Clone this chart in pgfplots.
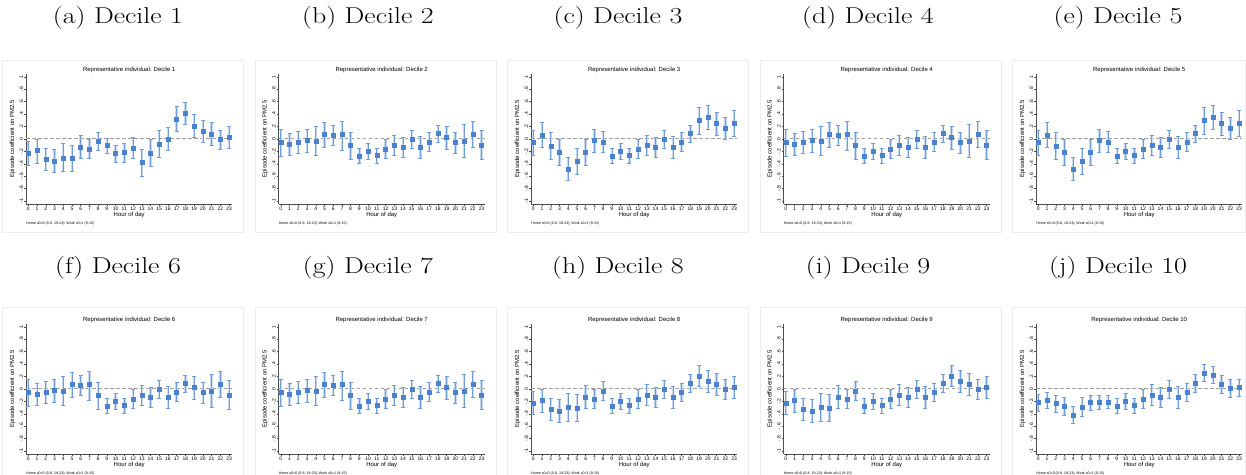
\documentclass[border=0pt]{standalone}
\usepackage{pgfplots}
\pgfplotsset{compat=1.18}
\usepackage{pgfplotstable}
\usepackage{fontspec}
\usepackage{graphicx}
\newfontfamily\arialf{Liberation Sans}

\definecolor{markblue}{HTML}{4A82CE}
\definecolor{cidark}{HTML}{6E9DD8}
\definecolor{cilight}{HTML}{C8DAF1}
\definecolor{axisgray}{HTML}{4D4D4D}
\definecolor{zerogray}{HTML}{9E9E9E}
\definecolor{framegray}{HTML}{EDEDED}

% h  y  lo  hi
\pgfplotstableread{
h y lo hi
0 -0.23 -0.42 -0.04
1 -0.19 -0.39 0.00
2 -0.32 -0.51 -0.145
3 -0.355 -0.54 -0.17
4 -0.31 -0.53 -0.075
5 -0.31 -0.53 -0.10
6 -0.135 -0.31 0.05
7 -0.16 -0.32 0.00
8 -0.03 -0.19 0.11
9 -0.11 -0.24 0.015
10 -0.235 -0.38 -0.10
11 -0.22 -0.375 -0.065
12 -0.145 -0.32 0.03
13 -0.38 -0.60 -0.165
14 -0.225 -0.435 -0.01
15 -0.09 -0.305 0.13
16 0.00 -0.19 0.18
17 0.32 0.12 0.53
18 0.42 0.24 0.59
19 0.21 0.03 0.39
20 0.125 -0.055 0.30
21 0.075 -0.11 0.26
22 -0.01 -0.17 0.145
23 0.02 -0.16 0.195
}\DA

\pgfplotstableread{
h y lo hi
0 -0.06 -0.28 0.16
1 -0.085 -0.27 0.085
2 -0.055 -0.23 0.12
3 -0.025 -0.215 0.16
4 -0.04 -0.27 0.195
5 0.07 -0.14 0.265
6 0.06 -0.11 0.225
7 0.07 -0.18 0.29
8 -0.11 -0.325 0.10
9 -0.275 -0.40 -0.15
10 -0.20 -0.335 -0.065
11 -0.27 -0.40 -0.145
12 -0.16 -0.31 -0.015
13 -0.10 -0.265 0.065
14 -0.135 -0.29 0.025
15 -0.01 -0.16 0.145
16 -0.135 -0.31 0.04
17 -0.055 -0.205 0.10
18 0.085 -0.06 0.225
19 0.02 -0.165 0.195
20 -0.06 -0.23 0.10
21 -0.03 -0.29 0.23
22 0.07 -0.14 0.275
23 -0.10 -0.335 0.13
}\DB

\pgfplotstableread{
h y lo hi
0 -0.055 -0.27 0.145
1 0.065 -0.14 0.265
2 -0.12 -0.335 0.10
3 -0.215 -0.43 0.00
4 -0.485 -0.675 -0.30
5 -0.355 -0.57 -0.145
6 -0.215 -0.42 -0.01
7 -0.02 -0.215 0.16
8 -0.055 -0.22 0.115
9 -0.275 -0.40 -0.15
10 -0.20 -0.335 -0.065
11 -0.27 -0.40 -0.145
12 -0.16 -0.31 -0.015
13 -0.10 -0.265 0.065
14 -0.135 -0.29 0.025
15 -0.01 -0.16 0.145
16 -0.135 -0.31 0.04
17 -0.055 -0.205 0.10
18 0.085 -0.06 0.225
19 0.295 0.08 0.50
20 0.35 0.16 0.535
21 0.25 0.06 0.43
22 0.17 -0.015 0.35
23 0.255 0.045 0.465
}\DC

\pgfplotstableread{
h y lo hi
0 -0.225 -0.405 -0.04
1 -0.19 -0.385 0.00
2 -0.32 -0.50 -0.145
3 -0.355 -0.54 -0.165
4 -0.30 -0.525 -0.075
5 -0.305 -0.52 -0.09
6 -0.135 -0.305 0.055
7 -0.16 -0.315 0.00
8 -0.03 -0.18 0.12
9 -0.28 -0.395 -0.15
10 -0.20 -0.33 -0.07
11 -0.27 -0.395 -0.145
12 -0.16 -0.305 -0.01
13 -0.095 -0.265 0.07
14 -0.135 -0.295 0.025
15 -0.01 -0.16 0.14
16 -0.135 -0.305 0.045
17 -0.05 -0.20 0.095
18 0.085 -0.06 0.23
19 0.21 0.04 0.38
20 0.125 -0.055 0.295
21 0.075 -0.10 0.25
22 -0.01 -0.17 0.15
23 0.02 -0.15 0.20
}\DH

\pgfplotstableread{
h y lo hi
0 -0.215 -0.355 -0.085
1 -0.18 -0.31 -0.06
2 -0.235 -0.37 -0.10
3 -0.28 -0.42 -0.14
4 -0.425 -0.555 -0.285
5 -0.29 -0.44 -0.14
6 -0.22 -0.34 -0.105
7 -0.22 -0.33 -0.11
8 -0.21 -0.315 -0.10
9 -0.28 -0.395 -0.15
10 -0.20 -0.33 -0.07
11 -0.27 -0.395 -0.145
12 -0.16 -0.305 -0.01
13 -0.095 -0.265 0.07
14 -0.135 -0.295 0.025
15 -0.01 -0.16 0.14
16 -0.135 -0.305 0.045
17 -0.05 -0.20 0.095
18 0.085 -0.06 0.23
19 0.255 0.125 0.395
20 0.225 0.085 0.365
21 0.075 -0.065 0.215
22 0.01 -0.135 0.15
23 0.02 -0.125 0.155
}\DJ

\pgfplotsset{
  panel/.style={
    scale only axis, width=206.2bp, height=130.5bp,
    xmin=-0.25, xmax=23.37, ymin=-1.05, ymax=1.05,
    axis x line*=bottom, axis y line*=left,
    axis line style={line width=0.5bp, color=axisgray, -},
    xtick={0,...,23},
    ytick={-1,-0.8,-0.6,-0.4,-0.2,0,0.2,0.4,0.6,0.8,1},
    yticklabels={-1,-.8,-.6,-.4,-.2,0,.2,.4,.6,.8,1},
    tick align=outside, major tick length=2bp,
    tick style={line width=0.4bp, color=axisgray},
    /pgf/number format/assume math mode=true,
    ticklabel style={font=\arialf\fontsize{5}{6}\selectfont, text=black},
    yticklabel style={rotate=90, anchor=south, inner sep=0.8bp},
    xticklabel style={inner sep=1bp},
    xlabel={Hour of day}, ylabel={Episode coefficient on PM2.5},
    label style={font=\arialf\fontsize{6}{7}\selectfont},
    xlabel style={at={(axis description cs:0.5,-0.084)}, anchor=center},
    ylabel style={at={(axis description cs:-0.066,0.5)}, anchor=center},
    title style={font=\arialf\fontsize{6}{7}\selectfont, at={(axis description cs:0.5,1)}, anchor=base, yshift=-4bp},
    clip=false,
  },
}

\newcommand{\panel}[5]{%
  \begin{axis}[panel, at={({26.1bp+#1*252.5bp},#2)}, anchor=south west,
      title={Representative individual: Decile #5}]
    \addplot[line width=0.8bp, color=zerogray, dash pattern=on 3.5bp off 2.5bp, forget plot]
      coordinates {(-0.25,0) (23.37,0)};
    \addplot[only marks, mark=none, color=cilight, forget plot,
      error bars/.cd, y dir=both, y explicit, error mark=-,
      error mark options={rotate=90, mark size=1.6bp, line width=0.6bp, color=cilight},
      error bar style={line width=2.4bp, color=cilight}]
      table[x=h, y=y, y error plus expr=\thisrow{hi}-\thisrow{y}, y error minus expr=\thisrow{y}-\thisrow{lo}] {#3};
    \addplot[only marks, mark=square*, mark size=2bp, color=markblue,
      mark options={draw=markblue, fill=markblue},
      error bars/.cd, y dir=both, y explicit, error mark=-,
      error mark options={rotate=90, mark size=2bp, line width=0.6bp, color=cidark},
      error bar style={line width=0.7bp, color=cidark}]
      table[x=h, y=y, y error plus expr=\thisrow{hi}-\thisrow{y}, y error minus expr=\thisrow{y}-\thisrow{lo}] {#3};
    \node[anchor=base west, inner sep=0pt, font=\arialf\fontsize{3.6}{4}\selectfont]
      at (axis description cs:0,0) [yshift=-20.3bp] {Home s0=0 (0-8, 19-23); Work s0=1 (9-15)};
  \end{axis}
  \node[font=\fontsize{23}{25}\selectfont] at ({118bp+#1*250bp},{#2+186.1bp}) {\scalebox{1.22}[1]{#4}};
}

\begin{document}
\begin{tikzpicture}
\useasboundingbox (0,0) rectangle (1246bp,475bp);
% panel frames
\foreach \c in {0,1,2,3} {
  \draw[framegray, line width=0.5bp] ({2.3bp+\c*252.5bp},243bp) rectangle ({243.3bp+\c*252.5bp},415bp);
  \draw[framegray, line width=0.5bp] ({2.3bp+\c*252.5bp},-1bp) rectangle ({243.3bp+\c*252.5bp},168bp);
}
\draw[framegray, line width=0.5bp] (1012.3bp,243bp) rectangle (1245bp,415bp);
\draw[framegray, line width=0.5bp] (1012.3bp,-1bp) rectangle (1245bp,168bp);

\panel{0}{270.9bp}{\DA}{(a) Decile 1}{1}
\panel{1}{270.9bp}{\DB}{(b) Decile 2}{2}
\panel{2}{270.9bp}{\DC}{(c) Decile 3}{3}
\panel{3}{270.9bp}{\DB}{(d) Decile 4}{4}
\panel{4}{270.9bp}{\DC}{(e) Decile 5}{5}
\panel{0}{20.9bp}{\DB}{(f) Decile 6}{6}
\panel{1}{20.9bp}{\DB}{(g) Decile 7}{7}
\panel{2}{20.9bp}{\DH}{(h) Decile 8}{8}
\panel{3}{20.9bp}{\DH}{(i) Decile 9}{9}
\panel{4}{20.9bp}{\DJ}{(j) Decile 10}{10}
\end{tikzpicture}
\end{document}
